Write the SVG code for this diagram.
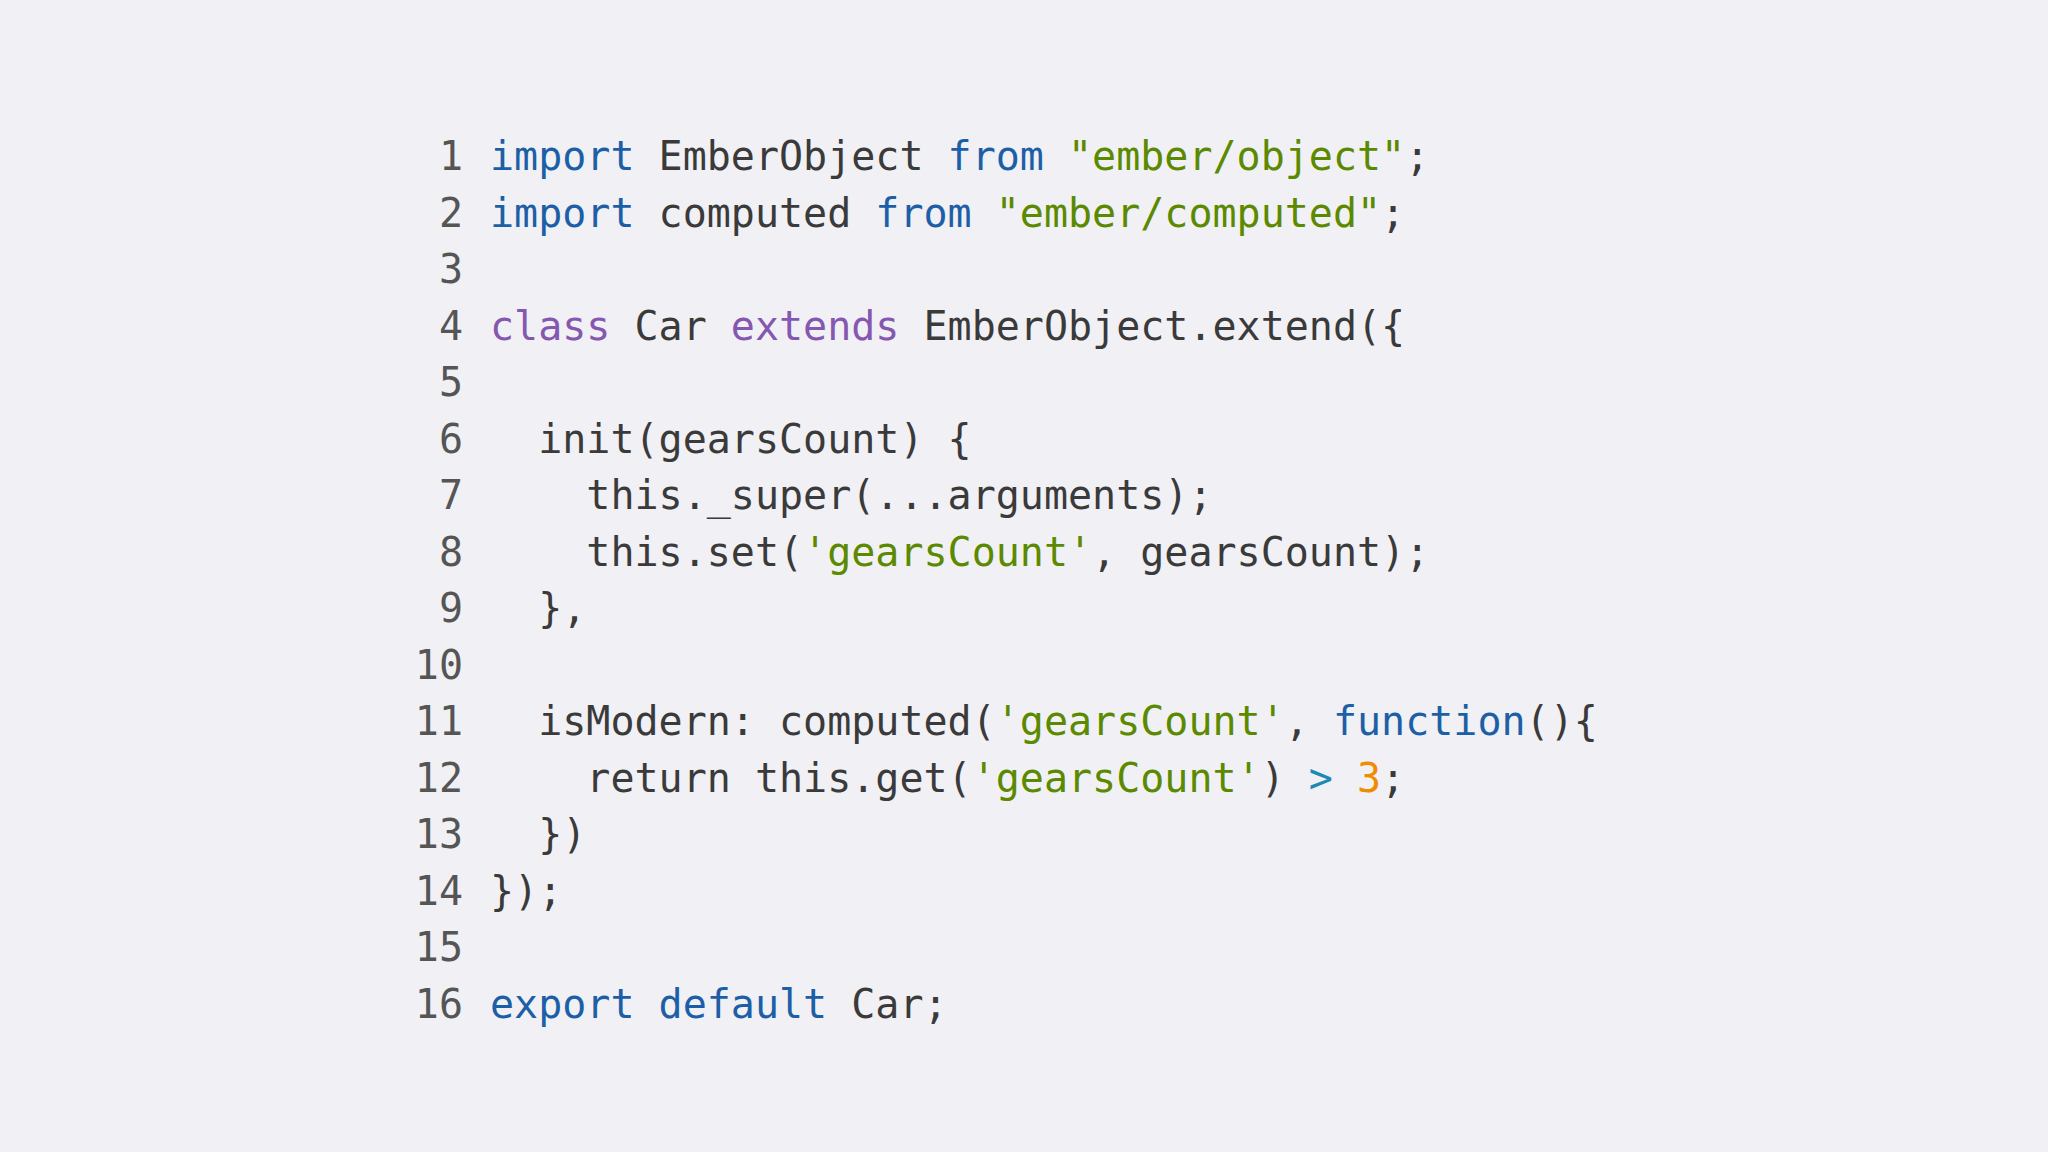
<svg xmlns="http://www.w3.org/2000/svg" width="2048" height="1152" viewBox="0 0 2048 1152">
<style>
text{font-family:"DejaVu Sans Mono","Liberation Mono",monospace;font-size:40px;fill:#3a3a3a;white-space:pre}
.n{fill:#555;text-anchor:end}
.k{fill:#1d5fa6}.p{fill:#8657b0}.s{fill:#5b8a00}.o{fill:#f08c00}.t{fill:#1b8ab5}
</style>
<rect width="2048" height="1152" fill="#f0f0f5"/>
<g id="numbers">
<text class="n" x="463" y="170">1</text><text class="n" x="463" y="226.5">2</text><text class="n" x="463" y="283">3</text><text class="n" x="463" y="339.5">4</text><text class="n" x="463" y="396">5</text><text class="n" x="463" y="452.5">6</text><text class="n" x="463" y="509">7</text><text class="n" x="463" y="565.5">8</text><text class="n" x="463" y="622">9</text><text class="n" x="463" y="678.5">10</text><text class="n" x="463" y="735">11</text><text class="n" x="463" y="791.5">12</text><text class="n" x="463" y="848">13</text><text class="n" x="463" y="904.5">14</text><text class="n" x="463" y="961">15</text><text class="n" x="463" y="1017.5">16</text>
</g>
<g id="code" xml:space="preserve">
<text x="490" y="170"><tspan class="k">import</tspan> EmberObject <tspan class="k">from</tspan> <tspan class="s">"ember/object"</tspan>;</text>
<text x="490" y="226.5"><tspan class="k">import</tspan> computed <tspan class="k">from</tspan> <tspan class="s">"ember/computed"</tspan>;</text>
<text x="490" y="339.5"><tspan class="p">class</tspan> Car <tspan class="p">extends</tspan> EmberObject.extend({</text>
<text x="490" y="452.5">  init(gearsCount) {</text>
<text x="490" y="509">    this._super(...arguments);</text>
<text x="490" y="565.5">    this.set(<tspan class="s">'gearsCount'</tspan>, gearsCount);</text>
<text x="490" y="622">  },</text>
<text x="490" y="735">  isModern: computed(<tspan class="s">'gearsCount'</tspan>, <tspan class="k">function</tspan>(){</text>
<text x="490" y="791.5">    return this.get(<tspan class="s">'gearsCount'</tspan>) <tspan class="t">&gt;</tspan> <tspan class="o">3</tspan>;</text>
<text x="490" y="848">  })</text>
<text x="490" y="904.5">});</text>
<text x="490" y="1017.5"><tspan class="k">export</tspan> <tspan class="k">default</tspan> Car;</text>
</g>
</svg>
